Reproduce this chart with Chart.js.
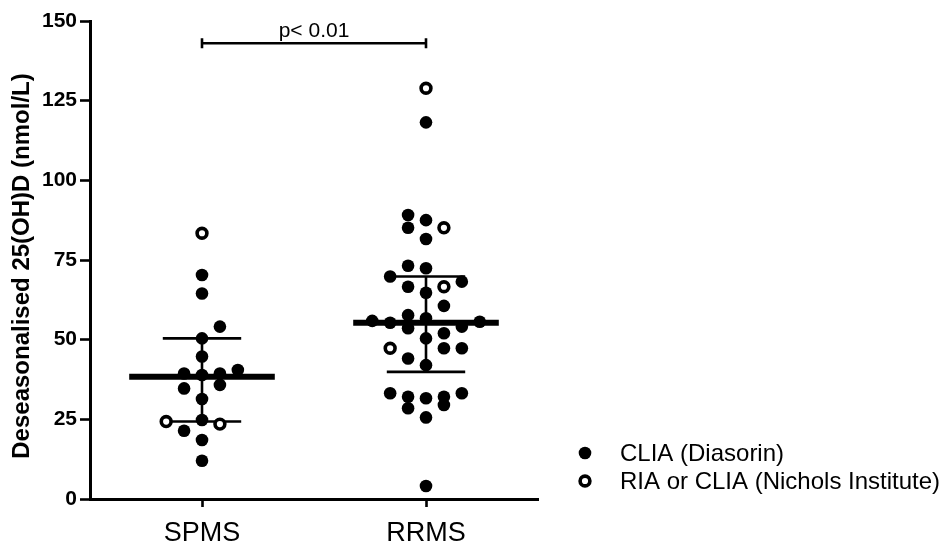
<!DOCTYPE html>
<html>
<head>
<meta charset="utf-8">
<title>Deseasonalised 25(OH)D by MS subtype</title>
<script src="https://cdn.jsdelivr.net/npm/chart.js@4/dist/chart.umd.min.js"></script>
<style>
  html, body { margin: 0; padding: 0; background: #ffffff; }
  #wrap { width: 952px; height: 550px; }
</style>
</head>
<body>
<div id="wrap"><canvas id="chart" width="952" height="550"></canvas></div>
<script>
// ---- data -------------------------------------------------------------
const groups = ['SPMS', 'RRMS'];
const yTicks = [0, 25, 50, 75, 100, 125, 150];
const yTitle = 'Deseasonalised 25(OH)D (nmol/L)';

// individual deseasonalised 25(OH)D values (nmol/L) and the swarm column of each dot
const spmsDiasorin    = [70.3, 64.5, 54.1, 50.4, 44.7, 39.4, 38.9, 39.4, 40.5, 34.7, 35.8, 31.4, 24.8, 21.4, 18.5, 12.0];
const spmsDiasorinCol = [0, 0, 1, 0, 0, -1, 0, 1, 2, -1, 1, 0, 0, -1, 0, 0];
const spmsNichols     = [83.4, 24.3, 23.5];
const spmsNicholsCol  = [0, -2, 1];

const rrmsDiasorin    = [118.2, 89.1, 87.5, 85.1, 81.6, 73.2, 72.4, 69.8, 68.2, 66.6,
                         64.7, 60.6, 57.7, 56.7, 55.9, 55.3, 55.6, 54.1, 53.6, 52.0,
                         50.4, 47.3, 47.3, 44.1, 42.0, 33.2, 32.1, 31.6, 32.1, 29.5,
                         33.2, 28.5, 25.6, 4.1];
const rrmsDiasorinCol = [0, -1, 0, -1, 0, -1, 0, -2, 2, -1,
                         0, 1, -1, 0, -3, -2, 3, 2, -1, 1,
                         0, 1, 2, -1, 0, -2, -1, 0, 1, 1,
                         2, -1, 0, 0];
const rrmsNichols     = [128.9, 85.1, 66.6, 47.3];
const rrmsNicholsCol  = [0, 1, 1, -2];

// median with interquartile range per group
const medians = [38.4, 55.3];
const upperQ  = [50.4, 69.8];
const lowerQ  = [24.3, 39.9];

const seriesNames = ['CLIA (Diasorin)', 'RIA or CLIA (Nichols Institute)'];
const pLabel = 'p< 0.01';
const pBarLevel = 143;

// ---- helpers ----------------------------------------------------------
const FONT = "Arial, 'Liberation Sans', Helvetica, sans-serif";
const COL_STEP = 0.08;      // horizontal spacing of swarm columns (category units)
const MEDIAN_HALF = 0.325;  // half length of the median bar
const IQR_HALF = 0.175;     // half length of the quartile caps

function swarm(groupIndex, values, cols) {
  return values.map((v, i) => ({ x: groupIndex + 1 + cols[i] * COL_STEP, y: v }));
}
function hLine(groupIndex, value, half) {
  return [{ x: groupIndex + 1 - half, y: value }, { x: groupIndex + 1 + half, y: value }];
}
function lineSet(data, width) {
  return {
    type: 'line', data, borderColor: '#000', borderWidth: width,
    pointRadius: 0, pointHoverRadius: 0, fill: false, tension: 0,
    borderCapStyle: 'butt', clip: false
  };
}

const filledStyle = { pointRadius: 6.3, pointBorderWidth: 0, pointBackgroundColor: '#000', pointBorderColor: '#000' };
const openStyle   = { pointRadius: 4.9, pointBorderWidth: 3.6, pointBackgroundColor: '#fff', pointBorderColor: '#000' };

const datasets = [
  Object.assign({ label: seriesNames[0], data: swarm(0, spmsDiasorin, spmsDiasorinCol).concat(swarm(1, rrmsDiasorin, rrmsDiasorinCol)) }, filledStyle),
  Object.assign({ label: seriesNames[1], data: swarm(0, spmsNichols, spmsNicholsCol).concat(swarm(1, rrmsNichols, rrmsNicholsCol)) }, openStyle)
];
groups.forEach((g, i) => {
  datasets.push(lineSet(hLine(i, medians[i], MEDIAN_HALF), 6));
  datasets.push(lineSet(hLine(i, upperQ[i], IQR_HALF), 2.6));
  datasets.push(lineSet(hLine(i, lowerQ[i], IQR_HALF), 2.6));
  datasets.push(lineSet([{ x: i + 1, y: lowerQ[i] }, { x: i + 1, y: upperQ[i] }], 2.6));
});

// axis title, significance bracket and legend
const annotations = {
  id: 'annotations',
  afterDatasetsDraw(chart) {
    const { ctx, scales: { x, y } } = chart;
    ctx.save();

    // rotated y-axis title
    ctx.save();
    ctx.translate(22, 266);
    ctx.rotate(-Math.PI / 2);
    ctx.fillStyle = '#000';
    ctx.font = 'bold 24px ' + FONT;
    ctx.textAlign = 'center';
    ctx.textBaseline = 'middle';
    ctx.fillText(yTitle, 0, 0);
    ctx.restore();

    // bracket between the two groups
    const x1 = x.getPixelForValue(1), x2 = x.getPixelForValue(2);
    const yb = y.getPixelForValue(pBarLevel);
    ctx.strokeStyle = '#000';
    ctx.lineWidth = 2.6;
    ctx.beginPath();
    ctx.moveTo(x1, yb); ctx.lineTo(x2, yb);
    ctx.moveTo(x1, yb - 5); ctx.lineTo(x1, yb + 5);
    ctx.moveTo(x2, yb - 5); ctx.lineTo(x2, yb + 5);
    ctx.stroke();
    ctx.fillStyle = '#000';
    ctx.font = '21px ' + FONT;
    ctx.textAlign = 'center';
    ctx.textBaseline = 'alphabetic';
    ctx.fillText(pLabel, x.getPixelForValue(1.5), yb - 6);

    // legend
    const lx = 585, ly = [453, 481];
    ctx.font = '24px ' + FONT;
    ctx.textAlign = 'left';
    ctx.textBaseline = 'middle';
    seriesNames.forEach((name, i) => {
      const ds = chart.data.datasets[i];
      ctx.beginPath();
      ctx.arc(lx, ly[i], ds.pointRadius, 0, Math.PI * 2);
      ctx.fillStyle = ds.pointBackgroundColor;
      ctx.fill();
      if (ds.pointBorderWidth > 0) {
        ctx.lineWidth = ds.pointBorderWidth;
        ctx.strokeStyle = ds.pointBorderColor;
        ctx.stroke();
      }
      ctx.fillStyle = '#000';
      ctx.fillText(name, 620, ly[i] + 1);
    });
    ctx.restore();
  }
};

new Chart(document.getElementById('chart'), {
  type: 'scatter',
  data: { datasets },
  options: {
    responsive: false,
    animation: false,
    devicePixelRatio: 1,
    layout: { padding: { left: 0, top: 21, right: 414, bottom: 0 } },
    plugins: { legend: { display: false }, tooltip: { enabled: false } },
    events: [],
    scales: {
      x: {
        type: 'linear',
        min: 0.5, max: 2.5,
        afterBuildTicks: (s) => { s.ticks = groups.map((g, i) => ({ value: i + 1 })); },
        afterFit: (s) => { s.height = 51; },
        ticks: {
          autoSkip: false, maxRotation: 0, padding: 10,
          color: '#000', font: { family: FONT, size: 27 },
          callback: (v) => groups[v - 1]
        },
        grid: { drawOnChartArea: false, drawTicks: true, tickLength: 8, tickWidth: 2.6, tickColor: '#000' },
        border: { display: true, color: '#000', width: 3 }
      },
      y: {
        min: 0, max: 150,
        afterBuildTicks: (s) => { s.ticks = yTicks.map(v => ({ value: v })); },
        afterFit: (s) => { s.width = 90; },
        ticks: {
          padding: 3, color: '#000',
          font: { family: FONT, size: 21, weight: 'bold' }
        },
        grid: { drawOnChartArea: false, drawTicks: true, tickLength: 10, tickWidth: 2.6, tickColor: '#000' },
        border: { display: true, color: '#000', width: 3 }
      }
    }
  },
  plugins: [annotations]
});
</script>
</body>
</html>
